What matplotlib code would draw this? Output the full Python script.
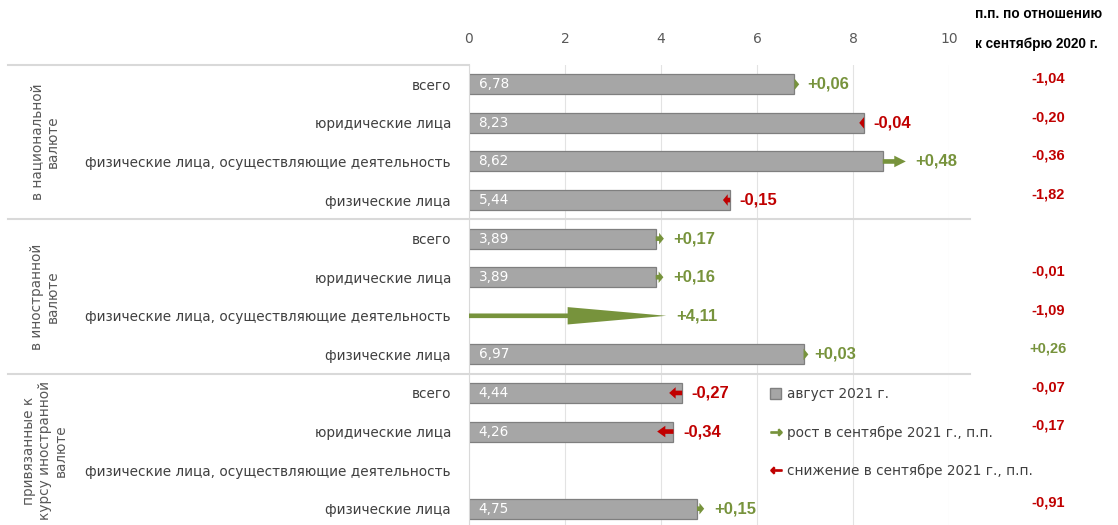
import numpy as np
import matplotlib.pyplot as plt
import matplotlib.transforms as mtransforms
from matplotlib.patches import Patch
from matplotlib.lines import Line2D

rows = ['всего', 'юридические лица', 'физические лица, осуществляющие деятельность', 'физические лица'] * 3
groups = ['в национальной\nвалюте', 'в иностранной\nвалюте', 'привязанные к\nкурсу иностранной\nвалюте']
aug = [6.78, 8.23, 8.62, 5.44, 3.89, 3.89, np.nan, 6.97, 4.44, 4.26, np.nan, 4.75]
chg = [0.06, -0.04, 0.48, -0.15, 0.17, 0.16, 4.11, 0.03, -0.27, -0.34, np.nan, 0.15]
yoy = [-1.04, -0.20, -0.36, -1.82, np.nan, -0.01, -1.09, 0.26, -0.07, -0.17, np.nan, -0.91]
ticks = [0, 2, 4, 6, 8, 10]
legend_labels = ['август 2021 г.', 'рост в сентябре 2021 г., п.п.', 'снижение в сентябре 2021 г., п.п.']
header = ['п.п. по отношению', 'к сентябрю 2020 г.']

GREEN = '#77933c'
RED = '#c00000'
GRAY = '#a6a6a6'
W, H = 1118, 525

def fmt(v, sign=True):
    s = f'{v:+.2f}' if sign else f'{v:.2f}'
    return s.replace('.', ',')

fig = plt.figure(figsize=(W / 100, H / 100), dpi=100)
ax = fig.add_axes([469 / W, -3 / H, (949 - 469) / W, (H + 3 - 65) / H])
ypos = np.arange(len(rows))
aug = np.array(aug)
chg = np.array(chg)
has_bar = ~np.isnan(aug)

ax.barh(ypos[has_bar], aug[has_bar], height=0.52, color=GRAY, edgecolor='#7f7f7f', lw=0.9, zorder=2)
for y, a in zip(ypos[has_bar], aug[has_bar]):
    ax.text(0.2, y, fmt(a, False), color='white', fontsize=9.8, va='center', ha='left', zorder=4)

for y, a, d in zip(ypos, aug, chg):
    if np.isnan(d):
        continue
    start = 0 if np.isnan(a) else a
    col = GREEN if d > 0 else RED
    # tiny changes still get a visible head
    dx = np.sign(d) * max(abs(d), 0.1)
    hl = min(max(0.5 * abs(dx), 0.1), 2.2)
    hw = 0.45 if abs(d) > 1 else 0.3
    ax.arrow(start, y, dx, 0, width=0.12, head_width=hw, head_length=hl,
             length_includes_head=True, color=col, lw=0, zorder=3)
    tx = start + max(d, 0) + 0.2
    ax.text(tx, y, fmt(d), color=col, fontsize=12, fontweight='bold',
            family='Liberation Sans', va='center', ha='left')

ax.set_xlim(0, 10)
ax.set_ylim(len(rows) - 0.5, -0.5)
ax.xaxis.tick_top()
ax.set_xticks(ticks)
ax.tick_params(axis='x', length=0, pad=14, labelsize=10, labelcolor='#595959')
ax.set_yticks(ypos, rows)
ax.tick_params(axis='y', length=0, pad=13, labelsize=9.8, labelcolor='#404040')
for s in ['top', 'right', 'bottom']:
    ax.spines[s].set_visible(False)
ax.spines['left'].set_color('#d9d9d9')
ax.grid(axis='x', color='#e3e3e3', lw=0.8)
ax.set_axisbelow(True)

trans = mtransforms.blended_transform_factory(fig.transFigure, ax.transData)
fig.add_artist(Line2D([8 / W, 469 / W], [-0.5, -0.5], color='#d9d9d9', lw=1.5, transform=trans))
for yl in [3.5, 7.5]:
    fig.add_artist(Line2D([8 / W, 970 / W], [yl, yl], color='#d9d9d9', lw=1.5, transform=trans))

for i, g in enumerate(groups):
    ax.text(45 / W, i * 4 + 1.5, g, transform=trans, rotation=90, ha='center', va='center',
            multialignment='center', fontsize=9.8, color='#595959')

for y, v in zip(ypos, yoy):
    if np.isnan(v):
        continue
    ax.text(1048 / W, y - 0.15, fmt(v) if v > 0 else fmt(v, False), transform=trans,
            color=GREEN if v > 0 else RED, fontsize=10.5, fontweight='bold',
            family='Liberation Sans', ha='center', va='center')

fig.text(975 / W, 1 - 14 / H, header[0], fontsize=9.8, fontweight='bold', family='Liberation Sans', va='center')
fig.text(975 / W, 1 - 44 / H, header[1], fontsize=9.8, fontweight='bold', family='Liberation Sans', va='center')

handles = [Patch(facecolor=GRAY, edgecolor='#7f7f7f'),
           Line2D([], [], color=GREEN, marker=r'$\rightarrow$', ls='none', ms=8),
           Line2D([], [], color=RED, marker=r'$\leftarrow$', ls='none', ms=8)]
fig.legend(handles, legend_labels, loc='upper left', bbox_to_anchor=(758 / W, 1 - 375 / H),
           frameon=False, fontsize=9.8, labelspacing=1.8, handlelength=0.8, handleheight=0.8,
           handletextpad=0.4, labelcolor='#404040')

fig.savefig('out.png', dpi=100)
